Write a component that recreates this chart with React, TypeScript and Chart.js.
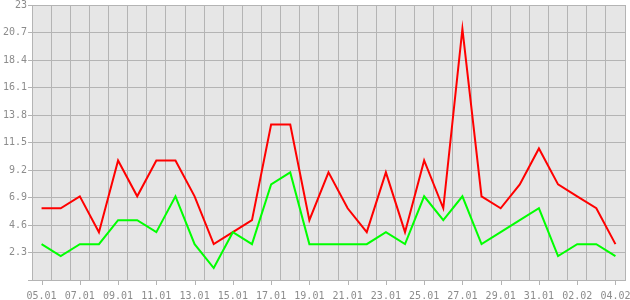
import React, { useEffect, useRef } from "react";
import { Chart, registerables } from "chart.js";

Chart.register(...registerables);

const dates = [
  "05.01", "06.01", "07.01", "08.01", "09.01", "10.01", "11.01", "12.01", "13.01", "14.01",
  "15.01", "16.01", "17.01", "18.01", "19.01", "20.01", "21.01", "22.01", "23.01", "24.01",
  "25.01", "26.01", "27.01", "28.01", "29.01", "30.01", "31.01", "01.02", "02.02", "03.02", "04.02",
];

const redSeries = [6, 6, 7, 4, 10, 7, 10, 10, 7, 3, 4, 5, 13, 13, 5, 9, 6, 4, 9, 4, 10, 6, 21, 7, 6, 8, 11, 8, 7, 6, 3];
const greenSeries = [3, 2, 3, 3, 5, 5, 4, 7, 3, 1, 4, 3, 8, 9, 3, 3, 3, 3, 4, 3, 7, 5, 7, 3, 4, 5, 6, 2, 3, 3, 2];

const yTicks = [0, 2.3, 4.6, 6.9, 9.2, 11.5, 13.8, 16.1, 18.4, 20.7, 23];

const GRID = "#b4b4b4";
const TEXT = "#8c8c8c";
const FONT = "DejaVu Sans Mono";

export default function App() {
  const ref = useRef<HTMLCanvasElement | null>(null);

  useEffect(() => {
    if (!ref.current) return;
    const bgPlugin = {
      id: "plotBg",
      beforeDraw(chart: any) {
        const { ctx, chartArea } = chart;
        ctx.save();
        ctx.fillStyle = "#e6e6e6";
        ctx.fillRect(chartArea.left, chartArea.top, chartArea.right - chartArea.left, chartArea.bottom - chartArea.top);
        ctx.restore();
      },
      afterDraw(chart: any) {
        const { ctx, chartArea } = chart;
        const xs = chart.scales.x;
        ctx.save();
        ctx.strokeStyle = GRID;
        ctx.lineWidth = 1;
        ctx.beginPath();
        for (let i = 0; i < dates.length; i += 2) {
          const x = Math.round(xs.getPixelForValue(i)) + 0.5;
          ctx.moveTo(x, chartArea.bottom);
          ctx.lineTo(x, chartArea.bottom + 5);
        }
        ctx.stroke();
        ctx.restore();
      },
    };

    const chart = new Chart(ref.current, {
      type: "line",
      data: {
        labels: dates,
        datasets: [
          {
            data: greenSeries,
            borderColor: "#00ff00",
            backgroundColor: "#00ff00",
            borderWidth: 2,
            pointRadius: 0,
            tension: 0,
            fill: false,
          },
          {
            data: redSeries,
            borderColor: "#ff0000",
            backgroundColor: "#ff0000",
            borderWidth: 2,
            pointRadius: 0,
            tension: 0,
            fill: false,
          },
        ],
      },
      options: {
        animation: false,
        responsive: false,
        layout: { padding: { top: 5, right: 5, left: 0, bottom: 0 } },
        plugins: { legend: { display: false }, tooltip: { enabled: false } },
        scales: {
          x: {
            type: "category",
            offset: true,
            grid: { offset: true, color: GRID, drawTicks: false },
            border: { color: GRID },
            ticks: {
              autoSkip: false,
              maxRotation: 0,
              minRotation: 0,
              padding: 10,
              color: TEXT,
              font: { family: FONT, size: 10 },
              callback: (_v: any, i: number) => (i % 2 === 0 ? dates[i] : ""),
            },
            afterFit: (s: any) => {
              s.height = 20;
              s.paddingLeft = 0;
              s.paddingRight = 0;
            },
          },
          y: {
            min: 0,
            max: 23,
            grid: { color: GRID, drawTicks: true, tickLength: 4 },
            border: { color: GRID },
            afterBuildTicks: (s: any) => {
              s.ticks = yTicks.map((v) => ({ value: v }));
            },
            ticks: {
              padding: 1,
              color: TEXT,
              font: { family: FONT, size: 10 },
              callback: (v: any) => (v === 0 ? "" : String(Number(Number(v).toFixed(1)))),
            },
            afterFit: (s: any) => {
              s.width = 32;
              s.paddingTop = 0;
              s.paddingBottom = 0;
            },
          },
        },
      },
      plugins: [bgPlugin],
    });
    return () => chart.destroy();
  }, []);

  return (
    <div style={{ position: "fixed", left: 0, top: 0, width: 630, height: 300, background: "#fff" }}>
      <canvas ref={ref} width={630} height={300} style={{ width: 630, height: 300 }} />
    </div>
  );
}
